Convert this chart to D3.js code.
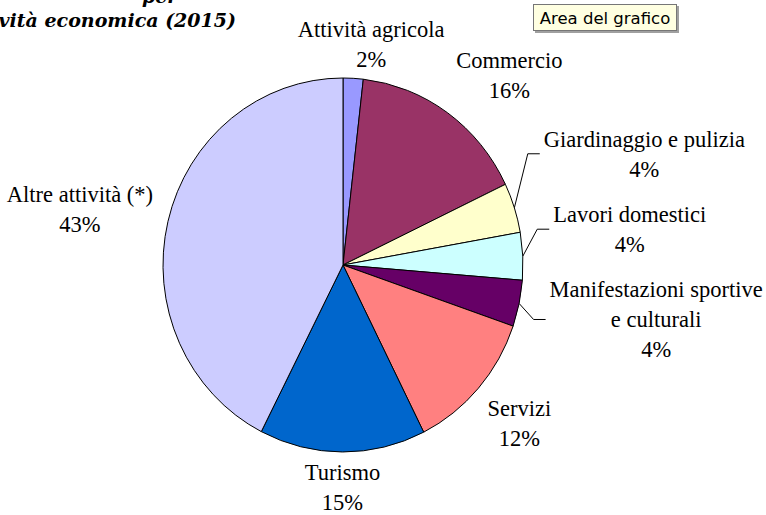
<!DOCTYPE html>
<html>
<head>
<meta charset="utf-8">
<script src="https://cdn.jsdelivr.net/npm/d3@7"></script>
<style>
  body { margin: 0; background: #fff; }
  svg { display: block; }
  .serif { font-family: 'Liberation Serif', 'Times New Roman', Times, serif; }
  .title { font-family: 'DejaVu Serif', 'Liberation Serif', serif; font-style: italic; font-weight: bold; }
</style>
</head>
<body>
<div id="chart"></div>
<script>
// data (share of workers by activity, 2015)
const categories = [
  ['Attività agricola'],
  ['Commercio'],
  ['Giardinaggio e pulizia'],
  ['Lavori domestici'],
  ['Manifestazioni sportive', 'e culturali'],
  ['Servizi'],
  ['Turismo'],
  ['Altre attività (*)']
];
const values = [1.8, 16.1, 4.3, 4.1, 4.0, 12.3, 14.9, 42.5];
const colors = ['#9999ff', '#993366', '#ffffcc', '#ccffff', '#660066', '#ff8080', '#0066cc', '#ccccff'];

// label layout: offset of the label block from the slice edge, and whether it has a leader line
const labelOffset = [[18, -34], [62, -38], [130, -54], [107, -27], [137, 16], [41, 35], [0, 35], [-88, -12]];
const leader = [false, false, true, true, true, false, false, false];

const W = 766, H = 515;
const CX = 343, CY = 265, RX = 180, RY = 187;
const LINE = 30;

const svg = d3.select('#chart').append('svg')
  .attr('width', W)
  .attr('height', H);

// title, cut off at the top left as in the original screenshot
svg.append('text')
  .attr('class', 'title')
  .attr('x', 142).attr('y', 3)
  .attr('font-size', 19)
  .text('per');
svg.append('text')
  .attr('class', 'title')
  .attr('x', 236).attr('y', 27)
  .attr('text-anchor', 'end')
  .attr('font-size', 19)
  .text('attività economica (2015)');

const pie = d3.pie().sort(null).value(d => d);
const arcs = pie(values);
const arc = d3.arc().innerRadius(0).outerRadius(RX);

const g = svg.append('g')
  .attr('transform', `translate(${CX},${CY}) scale(1,${RY / RX})`);

g.selectAll('path')
  .data(arcs)
  .enter().append('path')
    .attr('d', arc)
    .attr('fill', (d, i) => colors[i])
    .attr('stroke', '#000')
    .attr('stroke-width', 1)
    .attr('vector-effect', 'non-scaling-stroke');

// point on the pie edge at the middle of a slice
function edge(d) {
  const a = (d.startAngle + d.endAngle) / 2;
  return [CX + Math.sin(a) * RX, CY - Math.cos(a) * RY];
}

const labels = svg.append('g')
  .attr('class', 'serif')
  .attr('font-size', 22.5)
  .attr('fill', '#000');

arcs.forEach((d, i) => {
  const [ex, ey] = edge(d);
  const lx = ex + labelOffset[i][0];
  const ly = ey + labelOffset[i][1];
  const lines = categories[i].concat([Math.round(values[i]) + '%']);
  const t = labels.append('text')
    .attr('text-anchor', 'middle');
  lines.forEach((s, j) => {
    t.append('tspan')
      .attr('x', lx)
      .attr('y', ly + (j - (lines.length - 1) / 2) * LINE)
      .attr('dy', '0.35em')
      .text(s);
  });

  if (leader[i]) {
    const left = t.node().getBBox().x;
    svg.append('path')
      .attr('d', d3.line()([[ex, ey], [left - 16, ly], [left - 4, ly]]))
      .attr('fill', 'none')
      .attr('stroke', '#000')
      .attr('stroke-width', 1);
  }
});

// "Area del grafico" tooltip
const tip = svg.append('g').attr('transform', 'translate(533,4)');
tip.append('rect')
  .attr('x', 2).attr('y', 2)
  .attr('width', 144).attr('height', 27)
  .attr('fill', '#a0a0a0');
tip.append('rect')
  .attr('x', 0.5).attr('y', 0.5)
  .attr('width', 143).attr('height', 26)
  .attr('fill', '#ffffe1')
  .attr('stroke', '#767676');
tip.append('text')
  .attr('x', 72).attr('y', 14)
  .attr('dy', '0.35em')
  .attr('text-anchor', 'middle')
  .attr('font-family', "'DejaVu Sans', sans-serif")
  .attr('font-size', 16.5)
  .text('Area del grafico');
</script>
</body>
</html>
